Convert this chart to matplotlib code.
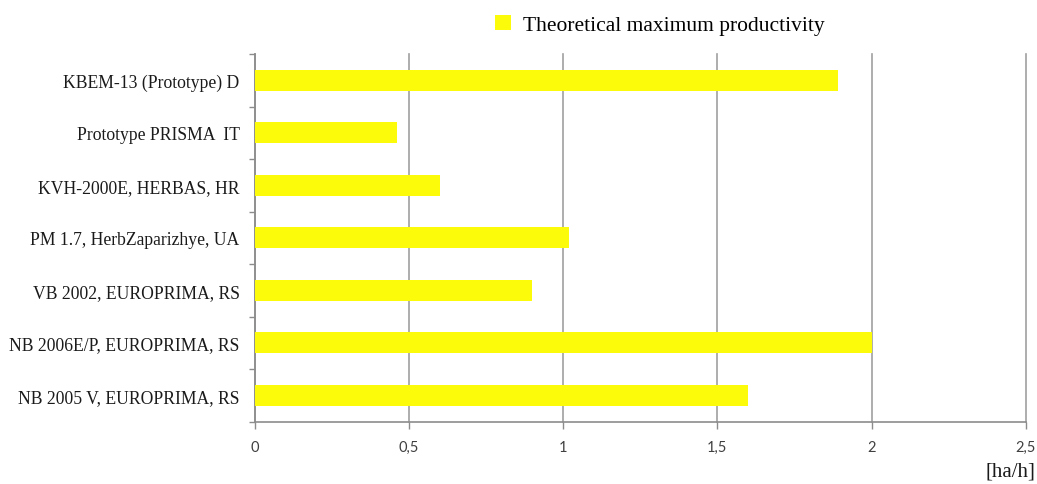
import matplotlib
matplotlib.use("Agg")
import matplotlib.pyplot as plt
from matplotlib.patches import Patch
import numpy as np

categories = [
    "NB 2005 V, EUROPRIMA, RS",
    "NB 2006E/P, EUROPRIMA, RS",
    "VB 2002, EUROPRIMA, RS",
    "PM 1.7, HerbZaparizhye, UA",
    "KVH-2000E, HERBAS, HR",
    "Prototype PRISMA  IT",
    "KBEM-13 (Prototype) D",
]
productivity = [1.60, 2.00, 0.90, 1.02, 0.60, 0.46, 1.89]
x_ticks = [0, 0.5, 1, 1.5, 2, 2.5]
x_tick_labels = ["0", "0,5", "1", "1,5", "2", "2,5"]
series_name = "Theoretical maximum productivity"
unit_label = "[ha/h]"

bar_color = "#FCFC0A"
axis_gray = "#8C8C8C"
grid_gray = "#A0A0A0"
serif = ["Liberation Serif", "DejaVu Serif"]

fig = plt.figure(figsize=(10.37, 4.85), dpi=100)
ax = fig.add_axes([0.2459, 0.1285, 0.9891 - 0.2459, 0.8866 - 0.1285])

y = np.arange(len(categories))
ax.barh(y, productivity, height=0.4, color=bar_color, zorder=3)

ax.set_xlim(0, 2.5)
ax.set_ylim(-0.5, len(categories) - 0.5)

ax.set_xticks(x_ticks)
ax.set_xticklabels(x_tick_labels, fontfamily="Lato", fontsize=10.5, color="#404040")
ax.set_yticks(y)
ax.set_yticklabels(categories, fontfamily=serif, fontsize=12.7, color="#1a1a1a")
ax.set_yticks(np.arange(len(categories) + 1) - 0.5, minor=True)

ax.tick_params(axis="y", which="major", length=0, pad=11)
ax.tick_params(axis="y", which="minor", length=4, color=axis_gray, width=1)
ax.tick_params(axis="x", which="major", length=5, color=axis_gray, width=1, pad=8)

ax.grid(axis="x", color=grid_gray, linewidth=1.2, zorder=0)
for gl in ax.get_xgridlines():
    gl.set_clip_on(False)
for side in ("top", "right"):
    ax.spines[side].set_visible(False)
for side in ("left", "bottom"):
    ax.spines[side].set_color(axis_gray)
    ax.spines[side].set_linewidth(1.2)

handles = [Patch(facecolor=bar_color, edgecolor="none", label=series_name)]
fig.legend(handles=handles, loc="center", bbox_to_anchor=(0.636, 0.947),
           frameon=False, prop={"family": serif, "size": 15.5},
           handlelength=0.75, handleheight=0.75, handletextpad=0.55)

fig.text(0.998, 0.027, unit_label, ha="right", va="center",
         fontfamily=serif, fontsize=15, color="#1a1a1a")

fig.savefig("out.png", dpi=100, facecolor="white")
